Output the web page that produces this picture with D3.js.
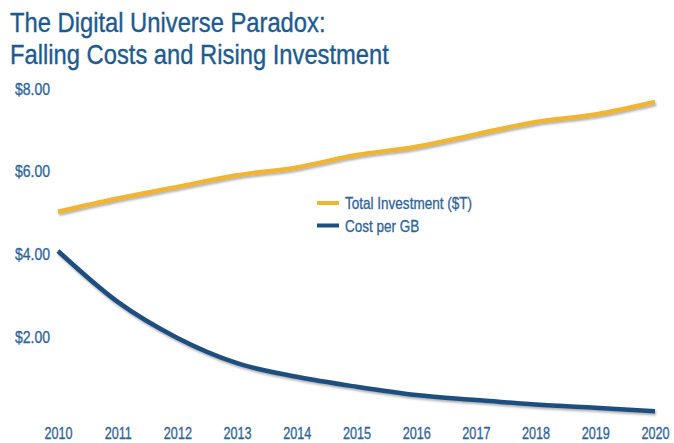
<!DOCTYPE html>
<html>
<head>
<meta charset="utf-8">
<script src="https://cdn.jsdelivr.net/npm/d3@7"></script>
<style>
  html, body { margin: 0; padding: 0; background: #fff; }
  svg { display: block; }
  .cond { font-family: "Liberation Sans", Arial, sans-serif; }
</style>
</head>
<body>
<svg id="chart" width="674" height="443"></svg>
<script>
// Years on the horizontal axis
const years = [2010, 2011, 2012, 2013, 2014, 2015, 2016, 2017, 2018, 2019, 2020];
// Total investment in the digital universe, trillions of dollars
const totalInvestment = [5.01, 5.33, 5.61, 5.89, 6.08, 6.38, 6.58, 6.88, 7.18, 7.36, 7.66];
// Cost per gigabyte, dollars
const costPerGB = [4.06, 2.83, 1.96, 1.35, 1.02, 0.78, 0.58, 0.46, 0.35, 0.27, 0.19];
// Value axis ticks
const yTicks = [2, 4, 6, 8];
const titleLines = ["The Digital Universe Paradox:", "Falling Costs and Rising Investment"];
const seriesNames = ["Total Investment ($T)", "Cost per GB"];
const seriesColors = ["#f1b530", "#1b4f80"];
const textColor = "#2f6398";

const svg = d3.select("#chart");
const margin = { left: 58 };

const x = d3.scaleLinear().domain([2010, 2020]).range([margin.left, 655]);
const y = d3.scaleLinear().domain([0, 8]).range([419, 88]);

const defs = svg.append("defs");
const shadow = defs.append("filter").attr("id", "shadow")
  .attr("x", "-5%").attr("y", "-20%").attr("width", "110%").attr("height", "140%");
shadow.append("feDropShadow").attr("dx", 1).attr("dy", 2).attr("stdDeviation", 1.2)
  .attr("flood-color", "#555").attr("flood-opacity", 0.45);
const gshadow = defs.append("filter").attr("id", "gshadow")
  .attr("x", "-2%").attr("y", "-400%").attr("width", "104%").attr("height", "900%");
gshadow.append("feDropShadow").attr("dx", 0).attr("dy", 3).attr("stdDeviation", 2)
  .attr("flood-color", "#999").attr("flood-opacity", 0.35);

// Title (squeezed horizontally for a condensed look)
svg.append("g").selectAll("text").data(titleLines).join("text")
  .attr("class", "cond")
  .attr("transform", (d, i) => `translate(10,${31.5 + i * 32}) scale(0.88,1)`)
  .attr("font-size", 27).attr("fill", "#1d5a8f")
  .attr("stroke", "#1d5a8f").attr("stroke-width", 0.35)
  .text(d => d);

// Gridlines (with baseline at zero)
svg.append("g").selectAll("line").data([0].concat(yTicks)).join("line")
  .attr("x1", margin.left).attr("x2", 659)
  .attr("y1", d => y(d)).attr("y2", d => y(d))
  .attr("stroke", "#cfcfcf").attr("stroke-width", 1.5)
  .attr("filter", "url(#gshadow)");

// Y axis labels
const yAxis = d3.axisLeft(y).tickValues(yTicks).tickSize(0)
  .tickFormat(d => "$" + d3.format(".2f")(d));
const yg = svg.append("g").attr("transform", `translate(${margin.left},0)`).call(yAxis);
yg.select(".domain").remove();
yg.selectAll("text").attr("class", "cond").attr("font-family", null)
  .attr("font-size", 16.5).attr("fill", textColor)
  .attr("stroke", textColor).attr("stroke-width", 0.3)
  .attr("x", 0).attr("dy", 6)
  .attr("transform", "translate(-8,0) scale(0.85,1)");

// X axis labels
const xAxis = d3.axisBottom(x).tickValues(years).tickSize(0)
  .tickFormat(d3.format("d"));
const xg = svg.append("g").attr("transform", "translate(0,439)").call(xAxis);
xg.select(".domain").remove();
xg.selectAll("text").attr("class", "cond").attr("font-family", null)
  .attr("font-size", 16).attr("fill", textColor)
  .attr("stroke", textColor).attr("stroke-width", 0.3)
  .attr("y", 0).attr("dy", 0)
  .attr("transform", "scale(0.79,1)");

// Lines
const line = d3.line().x((d, i) => x(years[i])).y(d => y(d)).curve(d3.curveMonotoneX);
[totalInvestment, costPerGB].forEach((vals, i) => {
  svg.append("path").datum(vals)
    .attr("d", line)
    .attr("fill", "none")
    .attr("stroke", seriesColors[i])
    .attr("stroke-width", 4.5)
    .attr("stroke-linecap", "butt")
    .attr("filter", "url(#shadow)");
});

// Legend
const lg = svg.append("g").attr("transform", "translate(317,203)");
const items = lg.selectAll("g").data(seriesNames).join("g")
  .attr("transform", (d, i) => `translate(0,${i * 22.5})`);
items.append("line").attr("x1", 0).attr("x2", 22).attr("y1", 0).attr("y2", 0)
  .attr("stroke", (d, i) => seriesColors[i]).attr("stroke-width", 4);
items.append("text").attr("class", "cond")
  .attr("transform", "translate(28,6) scale(0.83,1)")
  .attr("font-size", 16.3).attr("fill", textColor)
  .attr("stroke", textColor).attr("stroke-width", 0.3)
  .text(d => d);
</script>
</body>
</html>
